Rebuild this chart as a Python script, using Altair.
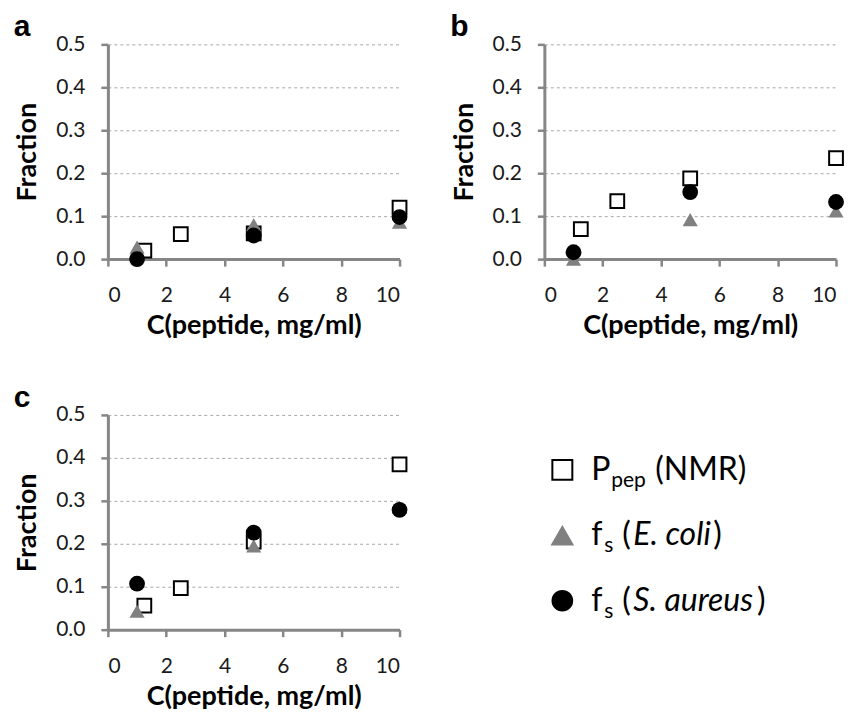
import altair as alt
import pandas as pd

# ---- data ----
conc_nmr = [1.25, 2.5, 5, 10]
conc_bac = [1, 5, 10]

a_nmr = [0.02, 0.058, 0.06, 0.12]
a_ecoli = [0.028, 0.08, 0.086]
a_saureus = [0.0, 0.055, 0.098]

b_nmr = [0.07, 0.135, 0.188, 0.235]
b_ecoli = [0.0, 0.092, 0.112]
b_saureus = [0.016, 0.156, 0.133]

c_nmr = [0.056, 0.097, 0.205, 0.385]
c_ecoli = [0.043, 0.195, 0.285]
c_saureus = [0.107, 0.226, 0.279]

x_ticks = [0, 2, 4, 6, 8, 10]
y_ticks = [0.0, 0.1, 0.2, 0.3, 0.4, 0.5]
panel_labels = ["a", "b", "c"]

leg_main = ["P", "f", "f"]
leg_sub = ["pep", "s", "s"]
leg_open = ["(NMR)", "(", "("]
leg_italic = ["", "E. coli", "S. aureus"]
leg_close = ["", ")", ")"]

AXIS_GRAY = "#868686"
TRI_GRAY = "#808080"
FONT = "Lato"

W, H = 292, 215


def make_df(nmr, ecoli, saureus):
    rows = []
    for x, y in zip(conc_nmr, nmr):
        rows.append({"x": x, "y": y, "series": "NMR"})
    for x, y in zip(conc_bac, ecoli):
        rows.append({"x": x, "y": y, "series": "E. coli"})
    for x, y in zip(conc_bac, saureus):
        rows.append({"x": x, "y": y, "series": "S. aureus"})
    return pd.DataFrame(rows)


def panel(df, label):
    xenc = alt.X(
        "x:Q",
        scale=alt.Scale(domain=[0, 10], nice=False),
        axis=alt.Axis(values=x_ticks, title="C(peptide, mg/ml)", grid=False),
    )
    yenc = alt.Y(
        "y:Q",
        scale=alt.Scale(domain=[0, 0.5], nice=False),
        axis=alt.Axis(values=y_ticks, format=".1f", title="Fraction", grid=True),
    )
    base = alt.Chart(df).encode(x=xenc, y=yenc)
    sq = base.transform_filter(alt.datum.series == "NMR").mark_point(
        shape="square", size=190, filled=False, stroke="black", strokeWidth=2,
        fill="white", fillOpacity=1, opacity=1
    )
    tri = base.transform_filter(alt.datum.series == "E. coli").mark_point(
        shape="triangle-up", size=230, filled=True, color=TRI_GRAY, opacity=1
    )
    cir = base.transform_filter(alt.datum.series == "S. aureus").mark_point(
        shape="circle", size=250, filled=True, color="black", opacity=1
    )
    return alt.layer(sq, tri, cir).properties(
        width=W,
        height=H,
        title=alt.TitleParams(
            text=label, anchor="start", frame="bounds", font="Liberation Sans",
            fontSize=30, fontWeight="bold", color="black", offset=-9,
        ),
    )


pa = panel(make_df(a_nmr, a_ecoli, a_saureus), panel_labels[0])
pb = panel(make_df(b_nmr, b_ecoli, b_saureus), panel_labels[1])
pc = panel(make_df(c_nmr, c_ecoli, c_saureus), panel_labels[2])

# ---- legend panel ----
leg_df = pd.DataFrame({
    "row": [0, 1, 2],
    "main": leg_main,
    "sub": leg_sub,
    "open": leg_open,
    "italic": leg_italic,
    "close": leg_close,
})
ly = alt.Y("row:O", scale=alt.Scale(type="point", range=[55, 186], padding=0), axis=None)
lbase = alt.Chart(leg_df).encode(y=ly)
l_sq = lbase.transform_filter(alt.datum.row == 0).mark_point(
    shape="square", size=400, filled=False, stroke="black", strokeWidth=2, opacity=1
).encode(x=alt.value(18))
l_tri = lbase.transform_filter(alt.datum.row == 1).mark_point(
    shape="triangle-up", size=560, filled=True, color=TRI_GRAY, opacity=1
).encode(x=alt.value(18))
l_cir = lbase.transform_filter(alt.datum.row == 2).mark_point(
    shape="circle", size=470, filled=True, color="black", opacity=1
).encode(x=alt.value(18))

txt = dict(font=FONT, fontSize=32, color="black", align="left", baseline="alphabetic", dy=10)
sub = dict(font=FONT, fontSize=21, color="black", align="left", baseline="alphabetic", dy=17)
l_main = lbase.mark_text(**txt).encode(x=alt.value(47), text="main:N")
l_sub0 = lbase.transform_filter(alt.datum.row == 0).mark_text(**sub).encode(
    x=alt.value(67), text="sub:N")
l_sub12 = lbase.transform_filter(alt.datum.row > 0).mark_text(**sub).encode(
    x=alt.value(60), text="sub:N")
l_open0 = lbase.transform_filter(alt.datum.row == 0).mark_text(**txt).encode(
    x=alt.value(111), text="open:N")
l_open12 = lbase.transform_filter(alt.datum.row > 0).mark_text(**txt).encode(
    x=alt.value(78), text="open:N")
l_ital = lbase.transform_filter(alt.datum.row > 0).mark_text(fontStyle="italic", **txt).encode(
    x=alt.value(89), text="italic:N")
l_close1 = lbase.transform_filter(alt.datum.row == 1).mark_text(**txt).encode(
    x=alt.value(169), text="close:N")
l_close2 = lbase.transform_filter(alt.datum.row == 2).mark_text(**txt).encode(
    x=alt.value(213), text="close:N")

legend = alt.layer(
    l_sq, l_tri, l_cir, l_main, l_sub0, l_sub12, l_open0, l_open12, l_ital,
    l_close1, l_close2
).properties(width=W, height=H)

chart = alt.concat(
    pa, pb, pc, legend, columns=2, spacing={"row": 156, "column": 145}, bounds="flush"
).properties(
    padding={"left": 5, "top": 4, "right": 5, "bottom": 0}
).configure_view(stroke=None).configure_axis(
    domainColor=AXIS_GRAY,
    domainWidth=3,
    tickColor=AXIS_GRAY,
    tickWidth=2.5,
    tickSize=7,
    labelFont=FONT,
    labelFontSize=21,
    labelColor="#1a1a1a",
    titleFont=FONT,
    titleFontSize=27,
    titleFontWeight="bold",
    titleColor="black",
    gridColor="#a8a8a8",
    gridDash=[3, 3],
    gridWidth=1,
).configure_axisX(
    labelPadding=18.5,
    titlePadding=7,
).configure_axisY(
    labelPadding=16,
    titlePadding=14,
)

chart.save("out.html", embed_options={"renderer": "svg", "actions": False})
